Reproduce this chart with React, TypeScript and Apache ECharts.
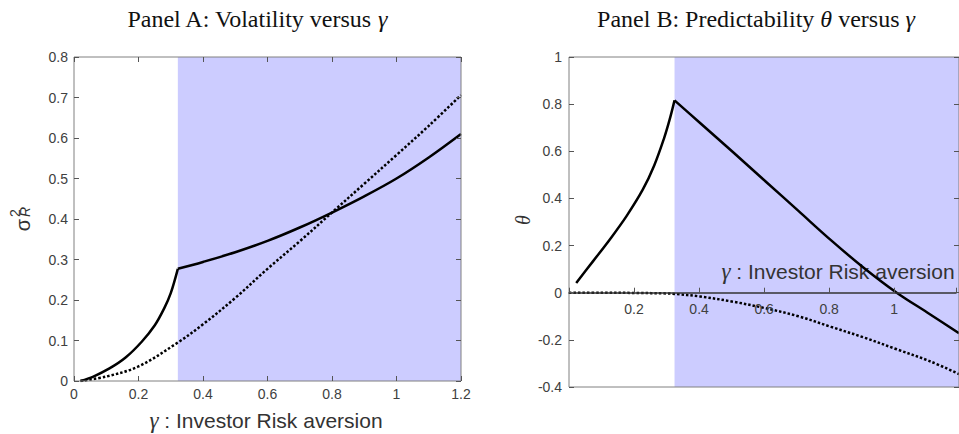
import React, { useEffect, useRef } from "react";
import * as echarts from "echarts";

// Panel A: volatility sigma_R^2 versus gamma
const gammaSolidA = [0.02, 0.06, 0.11, 0.16, 0.21, 0.25, 0.28, 0.3, 0.322, 0.4, 0.5, 0.6, 0.7, 0.8, 0.9, 1.0, 1.1, 1.2];
const sigmaSolidA = [0, 0.011, 0.031, 0.058, 0.097, 0.137, 0.18, 0.217, 0.277, 0.294, 0.318, 0.346, 0.379, 0.416, 0.456, 0.5, 0.552, 0.61];
const gammaDottedA = [0.02, 0.1, 0.2, 0.322, 0.4, 0.5, 0.6, 0.7, 0.8, 0.9, 1.0, 1.1, 1.2];
const sigmaDottedA = [0, 0.011, 0.036, 0.095, 0.14, 0.205, 0.277, 0.345, 0.416, 0.487, 0.558, 0.63, 0.706];

// Panel B: predictability theta versus gamma
const gammaSolidB = [0.022, 0.073, 0.124, 0.175, 0.225, 0.26, 0.29, 0.307, 0.322, 0.4, 0.5, 0.6, 0.7, 0.8, 0.9, 1.0, 1.1, 1.19];
const thetaSolidB = [0.041, 0.133, 0.225, 0.324, 0.437, 0.54, 0.655, 0.734, 0.816, 0.72, 0.597, 0.472, 0.347, 0.222, 0.105, 0.0, -0.09, -0.172];
const gammaDottedB = [0, 0.1, 0.2, 0.3, 0.322, 0.4, 0.5, 0.6, 0.7, 0.8, 0.9, 1.0, 1.1, 1.19];
const thetaDottedB = [0, 0, -0.001, -0.003, -0.005, -0.016, -0.038, -0.066, -0.1, -0.145, -0.19, -0.24, -0.29, -0.345];

const shadeStart = 0.322;
const xMaxA = 1.2;
const xMaxB = 1.19;
const yMinB = -0.4;
const yMaxB = 1;

const titleA = "Panel A: Volatility versus ";
const titleB1 = "Panel B: Predictability ";
const titleB2 = " versus ";
const xName = " : Investor Risk aversion";

const pairs = (xs: number[], ys: number[]) => xs.map((x, i) => [x, ys[i]]);
const splitAt = (xs: number[], ys: number[], k: number) => {
  const i = xs.indexOf(k);
  return [pairs(xs.slice(0, i + 1), ys.slice(0, i + 1)), pairs(xs.slice(i), ys.slice(i))];
};

export default function App() {
  const ref = useRef<HTMLDivElement>(null);
  useEffect(() => {
    const chart = echarts.init(ref.current!, null, { renderer: "svg" });
    const labelStyle = { fontFamily: "Liberation Sans", fontSize: 14, color: "#404040" };
    const tick = { inside: true, length: 5, lineStyle: { color: "#555" } };
    const [aLeft, aRight] = splitAt(gammaSolidA, sigmaSolidA, shadeStart);
    const [bLeft, bRight] = splitAt(gammaSolidB, thetaSolidB, shadeStart);
    const solid = { color: "#000", width: 2.5 };
    const dotted = { color: "#000", width: 2.5, type: [2.5, 2] as any, cap: "butt" };
    const serif = { fontFamily: "Liberation Serif", fontSize: 24, fill: "#111" };
    const serifIt = { fontFamily: "Liberation Serif", fontSize: 24, fontStyle: "italic", fill: "#111" };
    const sans20 = { fontFamily: "Liberation Sans", fontSize: 21, fill: "#333" };
    const gIt20 = { fontFamily: "Liberation Serif", fontSize: 23, fontStyle: "italic", fill: "#333" };

    const gridBTop = 57;
    const gridBHeight = 330;
    const zeroOffset = (gridBHeight * yMaxB) / (yMaxB - yMinB);

    const line = (xi: number, yi: number, data: any, style: any, extra: any = {}) => ({
      type: "line", xAxisIndex: xi, yAxisIndex: yi, data, showSymbol: false, smooth: 0.35, lineStyle: style, z: 4, ...extra,
    });
    const shade = (xi: number, yi: number, data: any, xEnd: number) => ({
      type: "line", xAxisIndex: xi, yAxisIndex: yi, data, showSymbol: false, silent: true, z: 1,
      lineStyle: { opacity: 0 },
      markArea: { silent: true, z: 1, itemStyle: { color: "#ccccff", opacity: 1 }, data: [[{ xAxis: shadeStart }, { xAxis: xEnd }]] },
    });

    const option: any = {
      animation: false,
      grid: [
        { left: 74, top: 57, width: 387, height: 324, show: true, z: 5, borderColor: "#808080", borderWidth: 1, backgroundColor: "transparent" },
        { left: 569, top: gridBTop, width: 390, height: gridBHeight, show: true, z: 5, borderColor: "#808080", borderWidth: 1, backgroundColor: "transparent" },
        { left: 569, top: gridBTop, width: 390, height: zeroOffset, show: false },
      ],
      xAxis: [
        { gridIndex: 0, type: "value", min: 0, max: xMaxA, interval: 0.2, position: "bottom", z: 6,
          axisLine: { show: false, onZero: false }, axisTick: tick, axisLabel: { ...labelStyle, margin: 6 }, splitLine: { show: false } },
        { gridIndex: 0, type: "value", min: 0, max: xMaxA, interval: 0.2, position: "top", z: 6,
          axisLine: { show: false, onZero: false }, axisTick: tick, axisLabel: { show: false }, splitLine: { show: false } },
        { gridIndex: 1, type: "value", min: 0, max: xMaxB, interval: 0.2, position: "bottom", show: false,
          axisLine: { onZero: false }, splitLine: { show: false } },
        { gridIndex: 2, type: "value", min: 0, max: xMaxB, interval: 0.2, position: "bottom", z: 6,
          axisLine: { show: true, onZero: false, lineStyle: { color: "#333", width: 1.5 } }, axisTick: tick,
          axisLabel: { ...labelStyle, margin: 9, formatter: (v: number) => (v === 0 || v > 1.1 ? "" : String(+v.toFixed(1))) },
          splitLine: { show: false } },
      ],
      yAxis: [
        { gridIndex: 0, type: "value", min: 0, max: 0.8, interval: 0.1, position: "left", z: 6,
          axisLine: { show: false, onZero: false }, axisTick: tick, axisLabel: { ...labelStyle, margin: 6 }, splitLine: { show: false } },
        { gridIndex: 0, type: "value", min: 0, max: 0.8, interval: 0.1, position: "right", z: 6,
          axisLine: { show: false, onZero: false }, axisTick: tick, axisLabel: { show: false }, splitLine: { show: false } },
        { gridIndex: 1, type: "value", min: yMinB, max: yMaxB, interval: 0.2, position: "left", z: 6,
          axisLine: { show: false, onZero: false }, axisTick: tick, axisLabel: { ...labelStyle, margin: 7 }, splitLine: { show: false } },
        { gridIndex: 1, type: "value", min: yMinB, max: yMaxB, interval: 0.2, position: "right", z: 6,
          axisLine: { show: false, onZero: false }, axisTick: tick, axisLabel: { show: false }, splitLine: { show: false } },
        { gridIndex: 2, type: "value", min: 0, max: yMaxB, show: false, axisLine: { onZero: false }, splitLine: { show: false } },
      ],
      series: [
        shade(0, 0, pairs(gammaDottedA, sigmaDottedA), xMaxA),
        line(0, 0, aLeft, solid),
        line(0, 0, aRight, solid),
        line(0, 0, pairs(gammaDottedA, sigmaDottedA), dotted),
        shade(2, 2, pairs(gammaDottedB, thetaDottedB), xMaxB),
        line(2, 2, bLeft, solid),
        line(2, 2, bRight, solid),
        line(2, 2, pairs(gammaDottedB, thetaDottedB), dotted),
      ],
      graphic: [
        { type: "text", x: 257, y: 19, z: 3, style: { text: `{a|${titleA}}{g|γ}`, align: "center", verticalAlign: "middle",
          rich: { a: serif, g: serifIt } } },
        { type: "text", x: 756, y: 19, z: 3, style: { text: `{a|${titleB1}}{g|θ}{a|${titleB2}}{g|γ}`, align: "center", verticalAlign: "middle",
          rich: { a: serif, g: serifIt } } },
        { type: "text", x: 266, y: 420, z: 3, style: { text: `{g|γ}{t|${xName}}`, align: "center", verticalAlign: "middle",
          rich: { g: gIt20, t: sans20 } } },
        { type: "text", x: 838, y: 271, z: 3, style: { text: `{g|γ}{t|${xName}}`, align: "center", verticalAlign: "middle",
          rich: { g: gIt20, t: sans20 } } },
        { type: "text", x: 23, y: 225, rotation: Math.PI / 2, z: 3, style: { text: "σ", align: "center", verticalAlign: "middle",
          fontFamily: "Liberation Sans", fontSize: 20, fill: "#333" } },
        { type: "text", x: 14.5, y: 213, rotation: Math.PI / 2, z: 3, style: { text: "2", align: "center", verticalAlign: "middle",
          fontFamily: "Liberation Sans", fontSize: 14, fill: "#333" } },
        { type: "text", x: 25, y: 212, rotation: Math.PI / 2, z: 3, style: { text: "R", align: "center", verticalAlign: "middle",
          fontFamily: "Liberation Sans", fontSize: 14, fontStyle: "italic", fill: "#333" } },
        { type: "text", x: 523, y: 220, rotation: Math.PI / 2, z: 3, style: { text: "θ", align: "center", verticalAlign: "middle",
          fontFamily: "Liberation Serif", fontSize: 20, fontStyle: "italic", fill: "#333" } },
      ],
    };
    chart.setOption(option);
    return () => chart.dispose();
  }, []);
  return <div ref={ref} style={{ position: "absolute", left: 0, top: 0, width: 959, height: 434 }} />;
}
